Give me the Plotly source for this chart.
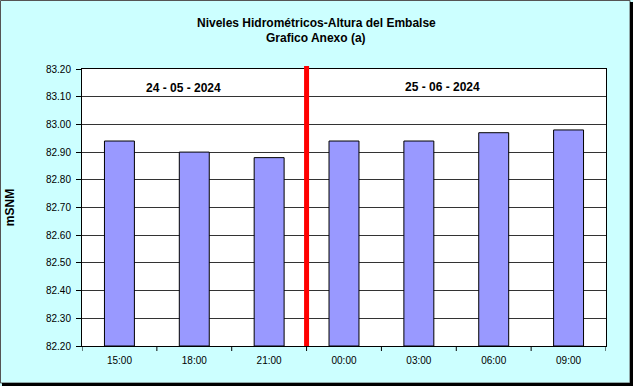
import plotly.graph_objects as go

categories = ["15:00", "18:00", "21:00", "00:00", "03:00", "06:00", "09:00"]
values = [82.94, 82.90, 82.88, 82.94, 82.94, 82.97, 82.98]
date_labels = ["24 - 05 - 2024", "25 - 06 - 2024"]
title_lines = ["Niveles Hidrométricos-Altura del Embalse", "Grafico Anexo (a)"]
y_ticks = [82.2 + 0.1 * i for i in range(11)]

W, H = 633, 386
L, R, T, B = 82, 27, 69, 40
pw, ph = W - L - R, H - T - B

def px(x):
    return (x - L) / pw

def py(y):
    return 1 - (y - T) / ph

fig = go.Figure()
fig.add_trace(go.Bar(
    x=list(range(len(categories))), y=[v - 82.2 for v in values], base=82.2,
    marker=dict(color="#9999FF", line=dict(color="black", width=1)),
    width=0.4,
))

font = "Liberation Sans, Arial, sans-serif"
fig.update_layout(
    width=W, height=H,
    margin=dict(l=L, r=R, t=T, b=B, autoexpand=False),
    paper_bgcolor="#CCFFFF", plot_bgcolor="white",
    showlegend=False,
    font=dict(family=font, size=11, color="black"),
    xaxis=dict(
        tickmode="array", tickvals=list(range(len(categories))), ticktext=categories,
        range=[-0.5, 6.5], showgrid=False, showline=True, linecolor="black", linewidth=1,
        mirror=True, ticks="", tickfont=dict(size=10), ticklabelstandoff=5, automargin=False,
    ),
    yaxis=dict(
        range=[82.2, 83.2], tickvals=y_ticks, ticktext=[f"{v:.2f}" for v in y_ticks],
        showgrid=True, gridcolor="#333333", gridwidth=1, showline=True, linecolor="black",
        linewidth=1, mirror=True, ticks="outside", ticklen=5, tickcolor="black",
        tickfont=dict(size=10), ticklabelstandoff=3, automargin=False,
        title=dict(text="<b>mSNM</b>", font=dict(size=12), standoff=28),
    ),
    bargap=0.6,
)

# title lines
for i, t in enumerate(title_lines):
    fig.add_annotation(x=px(316), y=py(23 + 15 * i), xref="paper", yref="paper",
                       text="<b>" + t + "</b>", showarrow=False, yanchor="middle",
                       font=dict(size=12, family=font))

# x ticks between categories
for i in range(len(categories) + 1):
    fig.add_shape(type="line", xref="x", yref="paper", x0=i - 0.5, x1=i - 0.5,
                  y0=0, y1=-5 / ph, line=dict(color="black", width=1))

# red separator
fig.add_shape(type="line", xref="x", yref="paper", x0=2.5, x1=2.5, y0=0, y1=py(66),
              line=dict(color="#FF0000", width=5))

fig.add_annotation(x=0.86, y=py(88), xref="x", yref="paper", text="<b>" + date_labels[0] + "</b>",
                   showarrow=False, yanchor="middle", font=dict(size=12, family=font))
fig.add_annotation(x=4.32, y=py(87), xref="x", yref="paper", text="<b>" + date_labels[1] + "</b>",
                   showarrow=False, yanchor="middle", font=dict(size=12, family=font))

# outer frame
fig.add_shape(type="rect", xref="paper", yref="paper", x0=px(0.5), x1=px(630), y0=py(0.5), y1=py(383),
              line=dict(color="#555555", width=1), layer="above")
fig.add_shape(type="line", xref="paper", yref="paper", x0=px(631.5), x1=px(631.5), y0=py(2), y1=py(386),
              line=dict(color="black", width=3))
fig.add_shape(type="line", xref="paper", yref="paper", x0=px(2), x1=px(633), y0=py(384.5), y1=py(384.5),
              line=dict(color="black", width=3))

fig.write_html("out.html", config={"displayModeBar": False},
               post_script="document.body.style.margin='0';document.body.style.padding='0';")
